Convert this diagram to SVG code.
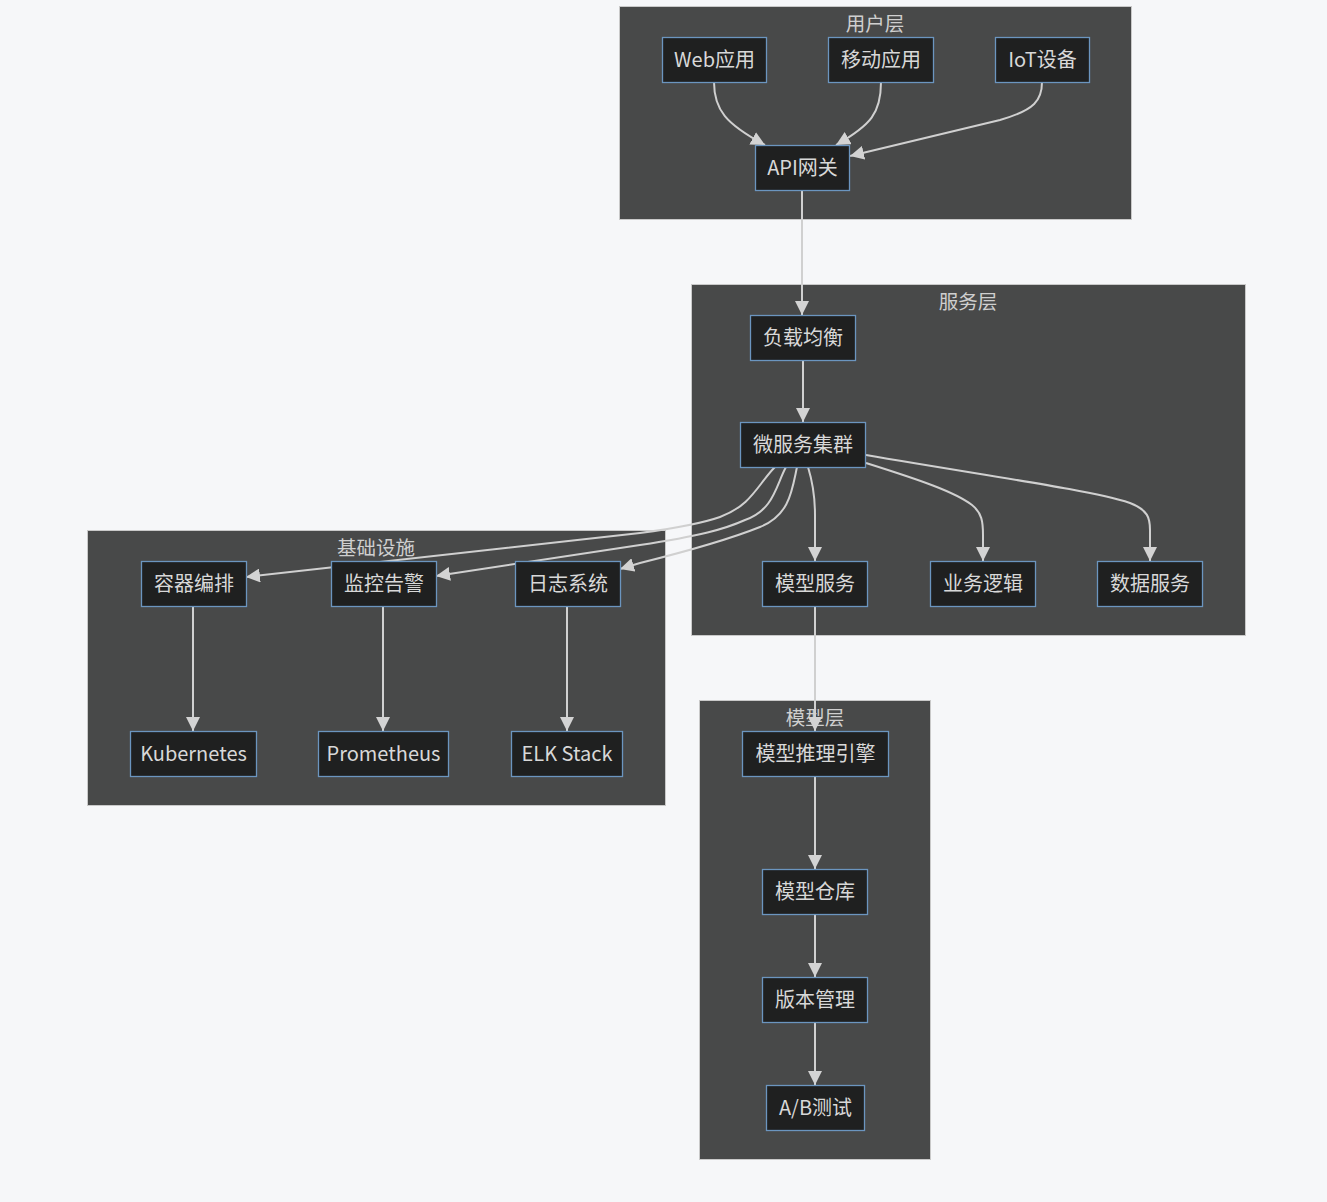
<svg xmlns="http://www.w3.org/2000/svg" width="1327" height="1202" viewBox="0 0 1327 1202">
<defs>
<style>
.cluster rect{fill:#484949;stroke:#c9c9c9;stroke-width:1}
.ctitle{fill:#cfcfcf;font-family:"Noto Sans CJK SC","Noto Sans",sans-serif;font-size:19.5px;text-anchor:middle;dominant-baseline:central}
.node rect{fill:#1f2020;stroke:#6b95bf;stroke-width:1.3}
.node text{fill:#d8d8d8;font-family:"Noto Sans CJK SC","Noto Sans",sans-serif;font-size:20px;text-anchor:middle;dominant-baseline:central}
.edges path{fill:none;stroke:#d0d0d0;stroke-width:2;marker-end:url(#arr)}
</style>
<marker id="arr" viewBox="0 0 10 10" refX="10" refY="5" markerWidth="14" markerHeight="14" markerUnits="userSpaceOnUse" orient="auto">
<path d="M0,0 L10,5 L0,10 z" fill="#d3d3d3"/>
</marker>
</defs>
<rect x="0" y="0" width="1327" height="1202" fill="#f6f7f9"/>

<g id="cluster-user" class="cluster"><rect x="619.5" y="6.5" width="512" height="213"/><text class="ctitle" x="875" y="22">用户层</text></g>
<g id="cluster-service" class="cluster"><rect x="691.5" y="284.5" width="554" height="351"/><text class="ctitle" x="968" y="300">服务层</text></g>
<g id="cluster-infra" class="cluster"><rect x="87.5" y="530.5" width="578" height="275"/><text class="ctitle" x="376" y="546">基础设施</text></g>
<g id="cluster-model" class="cluster"><rect x="699.5" y="700.5" width="231" height="459"/><text class="ctitle" x="815" y="716">模型层</text></g>

<g id="connectors" class="edges">
<path d="M714,82 C714,110 726,124 765,145"/>
<path d="M881,82 C881,113 871,125 836,145"/>
<path d="M1042,82 C1042,100 1035,110 1000,120 L850,156"/>
<path d="M802,190 L802,315"/>
<path d="M803,360 L803,422"/>
<path d="M808,467 C812,480 815,495 815,515 L815,561"/>
<path d="M866,463 C920,480 955,492 972,505 C982,513 983,522 983,535 L983,561"/>
<path d="M866,455 C1000,478 1090,490 1130,503 C1148,510 1150,518 1150,530 L1150,561"/>
<path d="M775,467 C758,484 752,505 720,517 C700,524 670,529 640,533 L246,577"/>
<path d="M786,467 C776,485 774,510 745,520 C725,529 700,536 640,545 L436,576"/>
<path d="M797,467 C792,490 790,515 760,527 C735,537 700,548 640,563 L620,569"/>
<path d="M815,606 L815,731"/>
<path d="M193,606 L193,731"/>
<path d="M383,606 L383,731"/>
<path d="M567,606 L567,731"/>
<path d="M815,776 L815,869"/>
<path d="M815,914 L815,977"/>
<path d="M815,1022 L815,1085"/>
</g>

<g id="n-web" class="node"><rect x="662.5" y="37.5" width="104" height="45"/><text x="714.5" y="58.5">Web应用</text></g>
<g id="n-mobile" class="node"><rect x="828.5" y="37.5" width="105" height="45"/><text x="881" y="58.5">移动应用</text></g>
<g id="n-iot" class="node"><rect x="995.5" y="37.5" width="94" height="45"/><text x="1042.5" y="58.5">IoT设备</text></g>
<g id="n-api" class="node"><rect x="755.5" y="145.5" width="94" height="45"/><text x="802.5" y="166.5">API网关</text></g>

<g id="n-lb" class="node"><rect x="750.5" y="315.5" width="105" height="45"/><text x="803" y="336.5">负载均衡</text></g>
<g id="n-ms" class="node"><rect x="740.5" y="422.5" width="125" height="45"/><text x="803" y="443.5">微服务集群</text></g>
<g id="n-modelsvc" class="node"><rect x="762.5" y="561.5" width="105" height="45"/><text x="815" y="582.5">模型服务</text></g>
<g id="n-biz" class="node"><rect x="930.5" y="561.5" width="105" height="45"/><text x="983" y="582.5">业务逻辑</text></g>
<g id="n-data" class="node"><rect x="1097.5" y="561.5" width="105" height="45"/><text x="1150" y="582.5">数据服务</text></g>

<g id="n-container" class="node"><rect x="141.5" y="561.5" width="105" height="45"/><text x="194" y="582.5">容器编排</text></g>
<g id="n-monitor" class="node"><rect x="331.5" y="561.5" width="105" height="45"/><text x="384" y="582.5">监控告警</text></g>
<g id="n-log" class="node"><rect x="515.5" y="561.5" width="105" height="45"/><text x="568" y="582.5">日志系统</text></g>
<g id="n-k8s" class="node"><rect x="130.5" y="731.5" width="126" height="45"/><text x="193.5" y="752.5">Kubernetes</text></g>
<g id="n-prom" class="node"><rect x="318.5" y="731.5" width="130" height="45"/><text x="383.5" y="752.5">Prometheus</text></g>
<g id="n-elk" class="node"><rect x="511.5" y="731.5" width="111" height="45"/><text x="567" y="752.5">ELK Stack</text></g>

<g id="n-infer" class="node"><rect x="742.5" y="731.5" width="146" height="45"/><text x="815.5" y="752.5">模型推理引擎</text></g>
<g id="n-repo" class="node"><rect x="762.5" y="869.5" width="105" height="45"/><text x="815" y="890.5">模型仓库</text></g>
<g id="n-version" class="node"><rect x="762.5" y="977.5" width="105" height="45"/><text x="815" y="998.5">版本管理</text></g>
<g id="n-ab" class="node"><rect x="766.5" y="1085.5" width="98" height="45"/><text x="815.5" y="1106.5">A/B测试</text></g>
</svg>
